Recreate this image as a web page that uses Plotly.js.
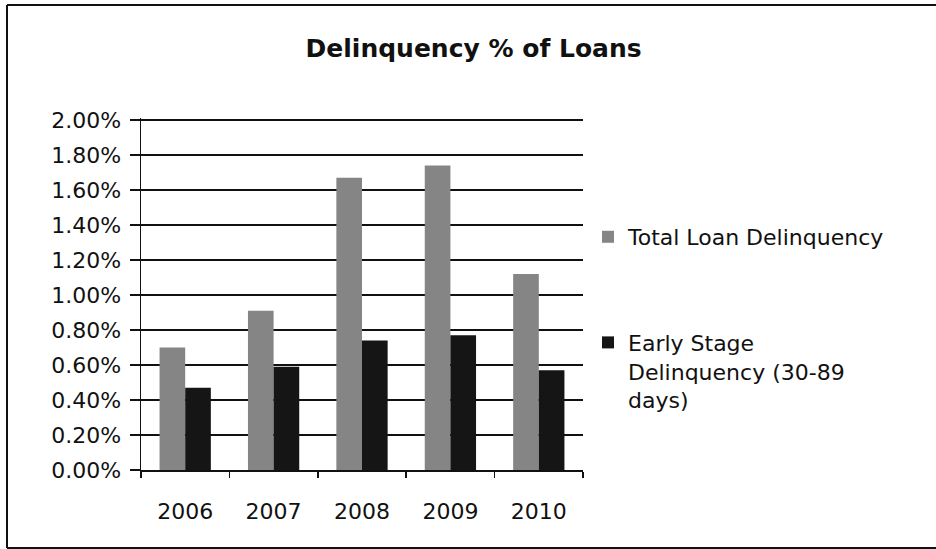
<!DOCTYPE html>
<html>
<head>
<meta charset="utf-8">
<script src="https://cdn.plot.ly/plotly-3.0.1.min.js"></script>
<style>
  html, body { margin: 0; padding: 0; background: #fff; }
  #chart { width: 936px; height: 549px; }
</style>
</head>
<body>
<div id="chart"></div>
<script>
const years = ['2006', '2007', '2008', '2009', '2010'];
const totalDelinquency = [0.0070, 0.0091, 0.0167, 0.0174, 0.0112];
const earlyDelinquency = [0.0047, 0.0059, 0.0074, 0.0077, 0.0057];
const seriesNames = ['Total Loan Delinquency', 'Early Stage<br>Delinquency (30-89<br>days)'];
const yTickVals = [0, 0.002, 0.004, 0.006, 0.008, 0.010, 0.012, 0.014, 0.016, 0.018, 0.020];

const FONT = 'DejaVu Sans, Arial, sans-serif';

const traces = [
  {
    type: 'bar', x: years, y: totalDelinquency, name: seriesNames[0],
    legendgroup: 'a',
    marker: { color: '#858585', line: { width: 0 } },
    hoverinfo: 'skip'
  },
  {
    type: 'bar', x: years, y: earlyDelinquency, name: seriesNames[1],
    legendgroup: 'b',
    marker: { color: '#151515', line: { width: 0 } },
    hoverinfo: 'skip'
  }
];

// plot area: x 141..583, y 118..470 (2.00% gridline at y=120)
const L = 141, R = 583, T = 118, B = 470;
const px = v => (v - L) / (R - L);
const py = v => (B - v) / (B - T);

const layout = {
  width: 936, height: 549,
  paper_bgcolor: '#ffffff', plot_bgcolor: '#ffffff',
  margin: { l: L, r: 936 - R, t: T, b: 549 - B, pad: 0 },
  font: { family: FONT, size: 22, color: '#111' },
  title: {
    text: 'Delinquency % of Loans',
    font: { family: FONT, size: 25, color: '#111', weight: 'bold' },
    xref: 'container', yref: 'container',
    x: 0.506, y: 1 - 48 / 549, xanchor: 'center', yanchor: 'middle'
  },
  barmode: 'group',
  bargap: 0.42,
  bargroupgap: 0,
  xaxis: {
    type: 'category',
    tickson: 'boundaries',
    ticks: 'outside', ticklen: 6, tickwidth: 1.5, tickcolor: '#111',
    showline: true, linecolor: '#111', linewidth: 1.5,
    showgrid: false,
    ticklabelstandoff: 21,
    tickfont: { family: FONT, size: 22, color: '#111' }
  },
  yaxis: {
    range: [0, 0.020114],
    tickvals: yTickVals,
    tickformat: '.2%',
    ticks: 'outside', ticklen: 10, tickwidth: 1.5, tickcolor: '#111',
    showline: true, linecolor: '#111', linewidth: 1.5,
    showgrid: true, gridcolor: '#111', gridwidth: 1.5,
    zeroline: false,
    ticklabelstandoff: 4,
    tickfont: { family: FONT, size: 22, color: '#111' }
  },
  legend: {
    xref: 'container', yref: 'container',
    x: 588 / 936, y: 1 - 216 / 549,
    xanchor: 'left', yanchor: 'top',
    traceorder: 'grouped',
    tracegroupgap: 74,
    valign: 'top',
    bgcolor: 'rgba(0,0,0,0)',
    font: { family: FONT, size: 22, color: '#111' }
  },
  showlegend: true,
  shapes: [
    { type: 'line', xref: 'paper', yref: 'paper', x0: px(7), x1: px(936), y0: py(5), y1: py(5),
      line: { color: '#111', width: 2 }, layer: 'below' },
    { type: 'line', xref: 'paper', yref: 'paper', x0: px(7), x1: px(7), y0: py(5), y1: py(548),
      line: { color: '#111', width: 2 }, layer: 'below' },
    { type: 'line', xref: 'paper', yref: 'paper', x0: px(7), x1: px(936), y0: py(548), y1: py(548),
      line: { color: '#111', width: 2 }, layer: 'below' }
  ]
};

Plotly.newPlot('chart', traces, layout, { displayModeBar: false, staticPlot: true });
</script>
</body>
</html>
